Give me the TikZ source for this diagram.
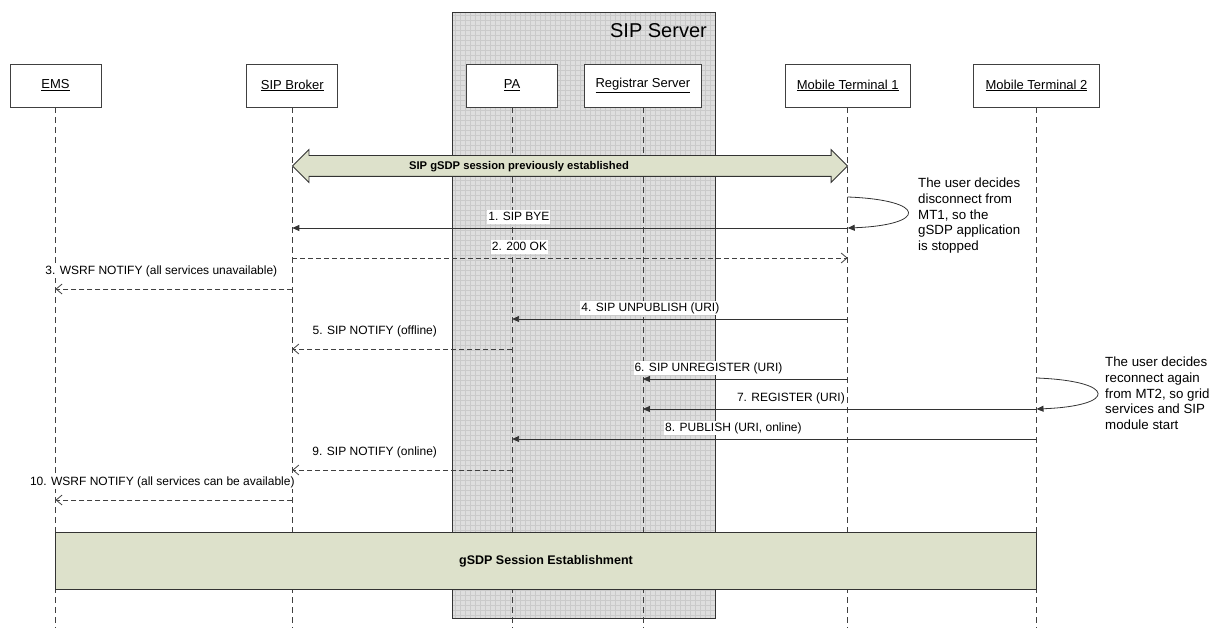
\documentclass[tikz,border=0pt]{standalone}
\usepackage{fontspec}
\setmainfont{Liberation Sans}
\usetikzlibrary{arrows.meta, positioning, shapes.arrows, fit, calc}

\definecolor{sessfill}{HTML}{DDE1CB}
\definecolor{srvfill}{HTML}{DEDEDE}
\definecolor{srvgrid}{HTML}{CACACA}

\begin{document}
\begin{tikzpicture}[
    x=1pt, y=-1pt,
    actor/.style={rectangle, draw=black!75, line width=0.8pt, fill=white, minimum width=91pt, minimum height=43pt, inner sep=2pt, font=\fontsize{13}{15}\selectfont},
    lifeline/.style={draw=black!75, line width=0.8pt, dash pattern=on 6pt off 4pt},
    msg/.style={draw=black!80, line width=0.8pt, -{Triangle[length=7pt, width=6pt]}},
    reply/.style={draw=black!75, line width=0.8pt, dash pattern=on 5pt off 3pt, -{Straight Barb[length=6pt, width=10pt]}},
    lbl/.style={fill=white, inner sep=1pt, text height=9pt, text depth=2.5pt, font=\fontsize{12}{14}\selectfont},
    note/.style={align=left, inner sep=0pt, anchor=north west, font=\fontsize{13.3}{15.7}\selectfont},
    sessarrow/.style={double arrow, draw=black!80, line width=0.8pt, fill=sessfill, double arrow head extend=6pt, minimum height=555pt, inner xsep=0pt, inner ysep=5pt, text height=8pt, text depth=2pt},
    estbox/.style={rectangle, draw=black!80, line width=0.8pt, fill=sessfill, inner sep=0pt}
  ]

    \useasboundingbox (0,0) rectangle (1214,628);

    % SIP Server area
    \fill[srvfill] (452,12) rectangle (715,618);
    \begin{scope}
      \clip (452,12) rectangle (715,618);
      \draw[srvgrid, line width=0.35pt, step=5pt] (452,12) grid (715,618);
    \end{scope}
    \draw[black!80, line width=0.8pt] (452,12) rectangle (715,618);
    \node[anchor=north east, inner sep=0pt, font=\fontsize{20}{24}\selectfont] (srvname) at (707,23) {SIP Server};

    % Participants
    \node[actor] (ems) at (55.5,85.5) {\underline{EMS}};
    \node[actor, right=145pt of ems] (broker) {\underline{SIP Broker}};
    \node[actor, right=128pt of broker] (pa) {\underline{PA}};
    \node[actor, minimum width=117pt, right=26pt of pa] (reg) {\underline{Registrar Server}};
    \node[actor, minimum width=125pt, right=83pt of reg] (mt1) {\underline{Mobile Terminal 1}};
    \node[actor, minimum width=126pt, right=62.5pt of mt1] (mt2) {\underline{Mobile Terminal 2}};

    % Lifelines
    \coordinate (bottom) at (0,628);
    \draw[lifeline] (ems) -- (ems |- bottom);
    \draw[lifeline] (broker) -- (broker |- bottom);
    \draw[lifeline] (pa) -- (pa |- bottom);
    \draw[lifeline] (reg) -- (reg |- bottom);
    \draw[lifeline] (mt1) -- (mt1 |- bottom);
    \draw[lifeline] (mt2) -- (mt2 |- bottom);

    % Message rows
    \coordinate (r0) at (0,166);
    \coordinate (l1) at (0,197);
    \coordinate (r1) at (0,228);
    \coordinate (r2) at (0,258);
    \coordinate (r3) at (0,289);
    \coordinate (r4) at (0,319);
    \coordinate (r5) at (0,349);
    \coordinate (l2) at (0,378);
    \coordinate (r6) at (0,379);
    \coordinate (r7) at (0,409);
    \coordinate (r8) at (0,439);
    \coordinate (r9) at (0,470);
    \coordinate (r10) at (0,500);

    % Existing session
    \node[sessarrow] (session) at ($(broker |- r0)!0.5!(mt1 |- r0)$) {};
    \node[anchor=base, inner sep=0pt, font=\fontsize{11.2}{13}\selectfont\bfseries] (sesstext) at ($(session.center)+(-51,4)$) {SIP gSDP session previously established};

    % Disconnect from MT1
    \draw[msg] (mt1 |- l1) .. controls +(80,3) and +(80,-3) .. (mt1 |- r1);
    \node[note] (note1) at (918,178) {The user decides\\disconnect from\\MT1, so the\\gSDP application\\is stopped};
    \draw[msg] (mt1 |- r1) -- node[lbl, pos=0.592, above=4pt] {1. SIP BYE} (broker |- r1);
    \draw[reply] (broker |- r2) -- node[lbl, pos=0.409, above=4pt] {2. 200 OK} (mt1 |- r2);
    \draw[reply] (broker |- r3) -- node[lbl, pos=0.553, above=10.5pt] {3. WSRF NOTIFY (all services unavailable)} (ems |- r3);
    \draw[msg] (mt1 |- r4) -- node[lbl, pos=0.588, above=4pt] {4. SIP UNPUBLISH (URI)} (pa |- r4);
    \draw[reply] (pa |- r5) -- node[lbl, pos=0.625, above=10.5pt] {5. SIP NOTIFY (offline)} (broker |- r5);
    \draw[msg] (mt1 |- r6) -- node[lbl, pos=0.68, above=4pt] {6. SIP UNREGISTER (URI)} (reg |- r6);

    % Reconnect from MT2
    \draw[msg] (mt2 |- l2) .. controls +(81,3) and +(81,-3) .. (mt2 |- r7);
    \node[note] (note2) at (1105,357) {The user decides\\reconnect again\\from MT2, so grid\\services and SIP\\module start};
    \draw[msg] (mt2 |- r7) -- node[lbl, pos=0.624, above=4pt] {7. REGISTER (URI)} (reg |- r7);
    \draw[msg] (mt2 |- r8) -- node[lbl, pos=0.578, above=4pt] {8. PUBLISH (URI, online)} (pa |- r8);
    \draw[reply] (pa |- r9) -- node[lbl, pos=0.625, above=10.5pt] {9. SIP NOTIFY (online)} (broker |- r9);
    \draw[reply] (broker |- r10) -- node[lbl, pos=0.549, above=10.5pt] {10. WSRF NOTIFY (all services can be available)} (ems |- r10);

    % New session
    \coordinate (e1) at (0,532);
    \coordinate (e2) at (0,589);
    \node[estbox, fit={(ems |- e1) (mt2 |- e2)}] (estab) {};
    \node[anchor=base, inner sep=0pt, font=\fontsize{12.5}{14}\selectfont\bfseries] (estabtext) at ($(estab.center)+(0,4)$) {gSDP Session Establishment};

  \end{tikzpicture}
\end{document}
